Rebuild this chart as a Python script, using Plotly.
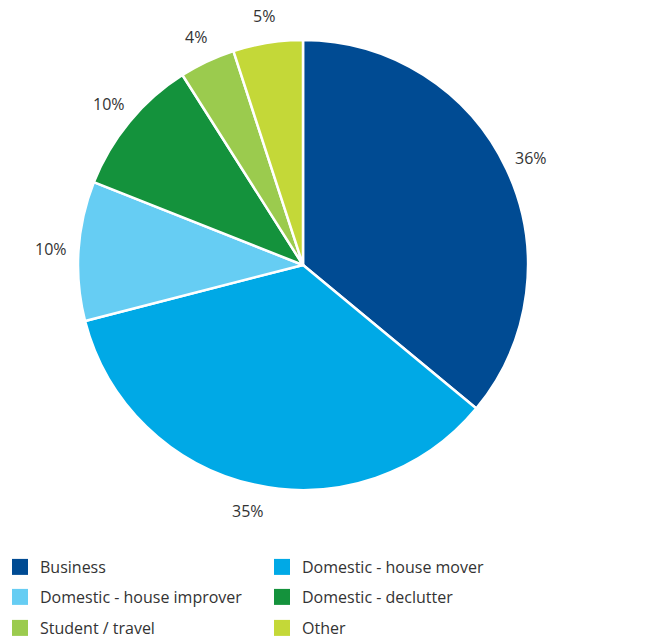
import math
import plotly.graph_objects as go

W, H = 672, 637

categories = [
    "Business",
    "Domestic - house mover",
    "Domestic - house improver",
    "Domestic - declutter",
    "Student / travel",
    "Other",
]
shares = [36, 35, 10, 10, 4, 5]
colors = ["#004B93", "#00A9E6", "#66CDF3", "#14923C", "#9BCB4E", "#C4D838"]

TEXT = "#333333"
FONT = "Open Sans, sans-serif"

# pie area in pixels: centre (303, 265), radius 225
cx, cy, r = 303, 265, 225
label_r = 252

fig = go.Figure()
fig.add_trace(
    go.Pie(
        labels=categories,
        values=shares,
        sort=False,
        direction="clockwise",
        rotation=0,
        marker=dict(colors=colors, line=dict(color="white", width=2.5)),
        textinfo="none",
        hoverinfo="label+percent",
        showlegend=False,
        domain=dict(
            x=[(cx - r) / W, (cx + r) / W],
            y=[1 - (cy + r) / H, 1 - (cy - r) / H],
        ),
    )
)

# value labels placed just outside each slice, at the slice's mid angle
total = sum(shares)
cum = 0
for v in shares:
    mid = (cum + v / 2) / total * 2 * math.pi
    cum += v
    px = cx + label_r * math.sin(mid)
    py = cy - label_r * math.cos(mid)
    fig.add_annotation(
        x=px / W, y=1 - py / H, xref="paper", yref="paper",
        text=f"{v}%", showarrow=False,
        xanchor="center", yanchor="middle",
        font=dict(size=16, color=TEXT, family=FONT),
    )

# legend: two columns, three rows (one legend per row)
legend_names = ["legend", "legend2", "legend3"]
row_tops = [550, 580, 611]
for i, (name, color) in enumerate(zip(categories, colors)):
    fig.add_trace(
        go.Scatter(
            x=[None], y=[None], mode="markers", name=name,
            marker=dict(symbol="square", size=16, color=color),
            legend=legend_names[i // 2],
            hoverinfo="skip",
        )
    )

legend_style = dict(
    orientation="h",
    x=0,
    xanchor="left",
    yanchor="top",
    entrywidth=217,
    entrywidthmode="pixels",
    font=dict(size=16, color=TEXT, family=FONT),
    traceorder="normal",
    bgcolor="rgba(0,0,0,0)",
)

fig.update_layout(
    width=W,
    height=H,
    margin=dict(l=0, r=0, t=0, b=0, autoexpand=False),
    paper_bgcolor="white",
    plot_bgcolor="white",
    font=dict(family=FONT, color=TEXT),
    showlegend=True,
    xaxis=dict(visible=False),
    yaxis=dict(visible=False),
    legend=dict(legend_style, y=1 - row_tops[0] / H),
    legend2=dict(legend_style, y=1 - row_tops[1] / H),
    legend3=dict(legend_style, y=1 - row_tops[2] / H),
)

fig.write_html("out.html")
